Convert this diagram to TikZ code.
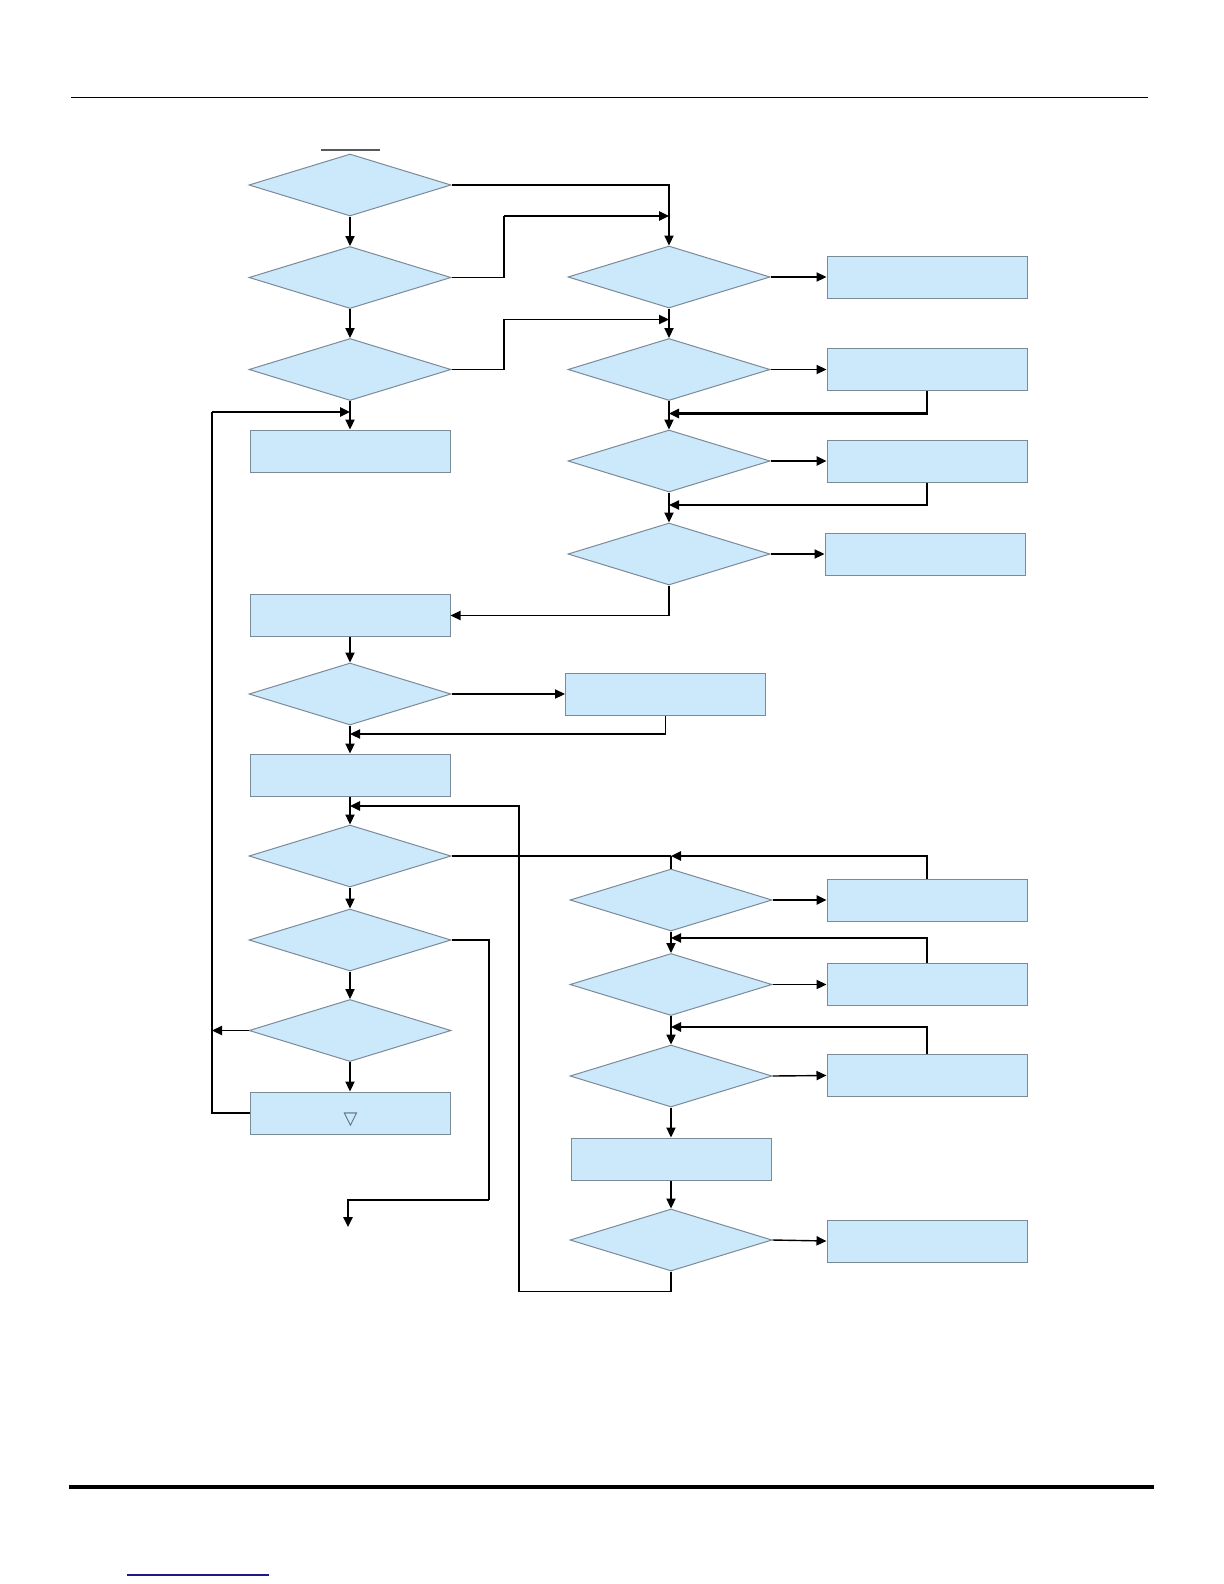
\documentclass[tikz,border=0pt]{standalone}
\usepackage{fontspec}
\newfontfamily\symfont{DejaVu Sans}
\usetikzlibrary{shapes.geometric,arrows.meta}
\definecolor{boxfill}{HTML}{CCE8FB}
\definecolor{boxline}{HTML}{7A8A99}
\definecolor{linkblue}{HTML}{1A1A8C}
\tikzset{
  dec/.style={diamond,draw=boxline,fill=boxfill,line width=0.5pt,inner sep=0pt,minimum width=101pt,minimum height=31pt},
  proc/.style={rectangle,draw=boxline,fill=boxfill,line width=0.5pt,inner sep=0pt,minimum width=100pt,minimum height=21pt},
  conn/.style={draw=black,line width=0.7pt,-{Triangle[length=5pt,width=4.6pt]}},
  connthick/.style={draw=black,line width=1.1pt,-{Triangle[length=5pt,width=4.6pt]}},
  plain/.style={draw=black,line width=0.7pt},
  plainthick/.style={draw=black,line width=1.1pt}
}
\begin{document}
\begin{tikzpicture}[x=0.5pt,y=-0.5pt]
\path[use as bounding box,fill=white] (0,0) rectangle (1224,1584);
% page rules
\draw[line width=0.5pt] (71,98) -- (1148,98);
\draw[line width=1.8pt] (69,1487) -- (1154,1487);
\draw[linkblue,line width=0.6pt] (127,1575) -- (269,1575);
\draw[black!65,line width=1pt] (321,150) -- (380,150);

% left column
\node[dec] (D1) at (350,185) {};
\node[dec] (D2) at (350,277.5) {};
\node[dec] (D3) at (350,369.5) {};
\node[proc] (LB1) at (350,451) {};
\node[proc] (LB2) at (350,615.5) {};
\node[dec] (D4) at (350,694) {};
\node[proc] (M) at (665.5,694) {};
\node[proc] (LB3) at (350,775) {};
\node[dec] (D5) at (350,856) {};
\node[dec] (D6) at (350,940) {};
\node[dec] (D7) at (350,1030.5) {};
\node[proc] (LB4) at (350,1113) {};
\node[inner sep=0pt,text=boxline!70!black] (tri) at (350.5,1120) {\symfont\fontsize{9pt}{9pt}\selectfont ▽};

% right column (upper)
\node[dec] (R1) at (669,277) {};
\node[dec] (R2) at (669,369.5) {};
\node[dec] (R3) at (669,461) {};
\node[dec] (R4) at (669,554) {};
\node[proc] (RB1) at (927,277) {};
\node[proc] (RB2) at (927,369.5) {};
\node[proc] (RB3) at (927,461) {};
\node[proc] (RB4) at (925,554) {};

% right column (lower)
\node[dec] (LR1) at (671,900) {};
\node[dec] (LR2) at (671,984.5) {};
\node[dec] (LR3) at (671,1076) {};
\node[proc] (LB5) at (671,1159) {};
\node[dec] (LR4) at (671,1240) {};
\node[proc] (LRB1) at (927,900) {};
\node[proc] (LRB2) at (927,984.5) {};
\node[proc] (LRB3) at (927,1075.5) {};
\node[proc] (LRB4) at (927,1241) {};

% junction coordinates
\coordinate (j1) at (669,216);
\coordinate (j2) at (669,319.5);
\coordinate (j3) at (669,413.5);
\coordinate (j4) at (669,505);
\coordinate (j5) at (350,412);
\coordinate (c1) at (212,412);
\coordinate (j6) at (212,1030.5);
\coordinate (j7) at (350,734);
\coordinate (j8) at (671,856);
\coordinate (j9) at (671,938);
\coordinate (j10) at (671,1027);
\coordinate (j11) at (350,806);
\coordinate (c2) at (519,1291.5);
\coordinate (c3) at (489,1200);
\coordinate (e1) at (348,1227);

% upper left flow
\draw[conn] (D1.east) -| (R1.north);
\draw[conn] (D1.south) -- (D2.north);
\draw[conn] (D2.south) -- (D3.north);
\draw[plain] (D2.east) -- (504,277.5) -- (504,216);
\draw[connthick] (504,216) -- (j1);
\draw[conn] (D3.east) -- (504,369.5) |- (j2);
\draw[conn] (D3.south) -- (LB1.north);

% upper right flow
\draw[conn] (R1.east) -- (RB1.west);
\draw[conn] (R1.south) -- (R2.north);
\draw[conn] (R2.east) -- (RB2.west);
\draw[connthick] (RB2.south) |- (j3);
\draw[conn] (R2.south) -- (R3.north);
\draw[connthick] (R3.east) -- (RB3.west);
\draw[conn] (RB3.south) |- (j4);
\draw[conn] (R3.south) -- (R4.north);
\draw[conn] (R4.east) -- (RB4.west);
\draw[conn] (R4.south) |- (LB2.east);

% loop back to top
\draw[plain] (LB4.west) -| (c1);
\draw[connthick] (c1) -- (j5);
\draw[conn] (D7.west) -- (j6);

% middle left flow
\draw[conn] (LB2.south) -- (D4.north);
\draw[conn] (D4.east) -- (M.west);
\draw[conn] (M.south) |- (j7);
\draw[conn] (D4.south) -- (LB3.north);
\draw[conn] (LB3.south) -- (D5.north);
\draw[conn] (D5.south) -- (D6.north);
\draw[conn] (D6.south) -- (D7.north);
\draw[conn] (D7.south) -- (LB4.north);

% lower right flow
\draw[plainthick] (D5.east) -- (j8);
\draw[plain] (j8) -- (LR1.north);
\draw[connthick] (LRB1.north) |- (j8);
\draw[connthick] (LR1.east) -- (LRB1.west);
\draw[conn] (LR1.south) -- (LR2.north);
\draw[conn] (LRB2.north) |- (j9);
\draw[conn] (LR2.east) -- (LRB2.west);
\draw[conn] (LR2.south) -- (LR3.north);
\draw[connthick] (LRB3.north) |- (j10);
\draw[conn] (LR3.east) -- (LRB3.west);
\draw[conn] (LR3.south) -- (LB5.north);
\draw[conn] (LB5.south) -- (LR4.north);
\draw[conn] (LR4.east) -- (LRB4.west);
\draw[plain] (LR4.south) |- (c2);
\draw[connthick] (c2) |- (j11);

% exit
\draw[plainthick] (D6.east) -| (c3);
\draw[connthick] (c3) -| (e1);
\end{tikzpicture}
\end{document}
